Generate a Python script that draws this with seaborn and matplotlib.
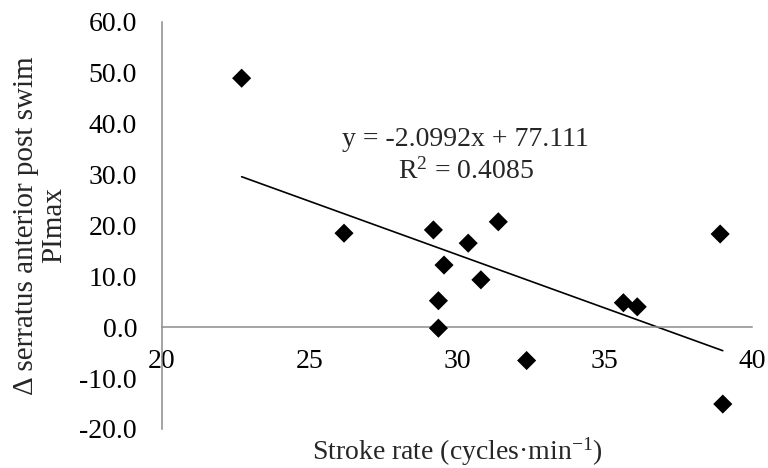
import matplotlib
matplotlib.use("Agg")
import matplotlib.pyplot as plt
import seaborn as sns
import numpy as np
import pandas as pd

stroke_rate = [22.70, 26.17, 29.20, 29.56, 29.37, 29.37, 30.38, 30.81, 31.40, 32.36, 35.64, 36.11, 38.92, 39.01]
delta_pimax = [48.9, 18.46, 19.1, 12.2, 5.2, -0.2, 16.5, 9.3, 20.7, -6.55, 4.8, 4.0, 18.3, -15.1]
x_ticks = [20, 25, 30, 35, 40]
y_ticks = [-20, -10, 0, 10, 20, 30, 40, 50, 60]
equation_text = "y = -2.0992x + 77.111"
r2_text = "R$^{2}$ = 0.4085"

sns.set_theme(style="white")
plt.rcParams['font.family'] = ['Liberation Serif', 'DejaVu Serif']
plt.rcParams['mathtext.fontset'] = 'custom'
plt.rcParams['mathtext.rm'] = 'Liberation Serif'
plt.rcParams['mathtext.it'] = 'Liberation Serif:italic'
plt.rcParams['mathtext.bf'] = 'Liberation Serif:bold'

df = pd.DataFrame({"x": stroke_rate, "y": delta_pimax})

fig = plt.figure(figsize=(7.68, 4.68), dpi=100)
ax = fig.add_axes([162/768, 1 - 429/468, 590/768, (429 - 21.7)/468])

sns.regplot(data=df, x="x", y="y", ax=ax, ci=None, marker="D", color="black",
            scatter_kws={"s": 95, "edgecolor": "none", "zorder": 3, "alpha": 1},
            line_kws={"color": "black", "linewidth": 1.2})

ax.set_xlim(20, 40)
ax.set_ylim(-20, 60)
ax.set_xticks(x_ticks)
ax.set_yticks(y_ticks)
ax.set_xticklabels([str(v) for v in x_ticks])
ax.set_yticklabels([f"{v:.1f}" for v in y_ticks])

gray = "#8c8c8c"
for s in ["top", "right"]:
    ax.spines[s].set_visible(False)
ax.spines["bottom"].set_position(("data", 0))
ax.spines["left"].set_position(("data", 20))
for s in ["bottom", "left"]:
    ax.spines[s].set_color(gray)
    ax.spines[s].set_linewidth(1.1)

ax.tick_params(axis="both", which="major", direction="out", length=6, width=1.1,
               color=gray, labelcolor="black", labelsize=20)
ax.tick_params(axis="y", pad=12)
ax.tick_params(axis="x", pad=10)

ax.set_xlabel(r"Stroke rate (cycles·min$^{\mathrm{-1}}$)", fontsize=20, va="center")
ax.xaxis.set_label_coords(0.5, -0.056)
ax.set_ylabel("Δ serratus anterior post swim\nPImax", fontsize=21, linespacing=1.1, va="center")
ax.yaxis.set_label_coords(-0.207, 0.5)

ax.text(30.3, 36.8, equation_text, fontsize=20, ha="center", va="center")
ax.text(30.3, 30.6, r2_text, fontsize=20, ha="center", va="center")

ax.grid(False)
fig.savefig("out.png", dpi=100, facecolor="white")
